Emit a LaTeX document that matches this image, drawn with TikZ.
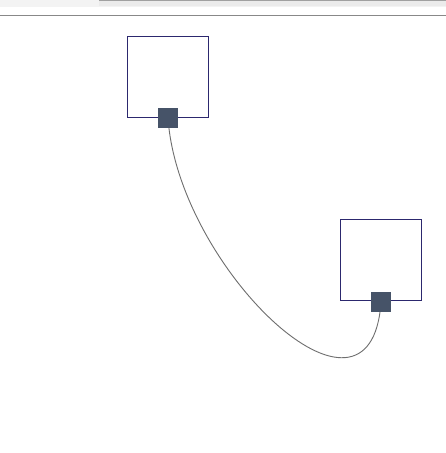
\documentclass[tikz,border=0pt]{standalone}
\usetikzlibrary{positioning,calc}
\definecolor{boxline}{RGB}{44,40,110}
\definecolor{portfill}{RGB}{70,83,104}
\definecolor{wire}{RGB}{110,110,110}
\definecolor{chromeA}{RGB}{243,243,243}
\definecolor{chromeB}{RGB}{160,160,160}
\definecolor{chromeC}{RGB}{136,136,136}
\tikzset{
  boxnode/.style={draw=boxline, line width=0.9pt, minimum width=81pt, minimum height=81pt, inner sep=0pt, fill=white},
  portnode/.style={fill=portfill, draw=none, minimum width=20pt, minimum height=20pt, inner sep=0pt},
  wireline/.style={draw=wire, line width=0.9pt}
}
\begin{document}
\begin{tikzpicture}[x=1pt,y=-1pt]
\useasboundingbox (0,0) rectangle (446,453);
\fill[white] (0,0) rectangle (446,453);
% browser chrome
\fill[chromeA] (0,0) rectangle (446,6.5);
\fill[chromeB] (99,0) rectangle (446,1.2);
\fill[black!8] (99,1.2) rectangle (446,5.5);
\draw[chromeC, line width=1pt] (0,15.5) -- (446,15.5);
% boxes
\node[boxnode] (b1) at (167.5,76.5) {};
\node[boxnode] (b2) at (380.5,260) {};
% anchor points
\coordinate (p1) at (168,118);
\coordinate (p2) at (381,302);
% connector
\draw[wireline] (p1) .. controls ($(p1)+(10,150)$) and ($(p2)+(-10,150)$) .. (p2);
% ports
\node[portnode] (s1) at (p1) {};
\node[portnode] (s2) at (p2) {};
\end{tikzpicture}
\end{document}
